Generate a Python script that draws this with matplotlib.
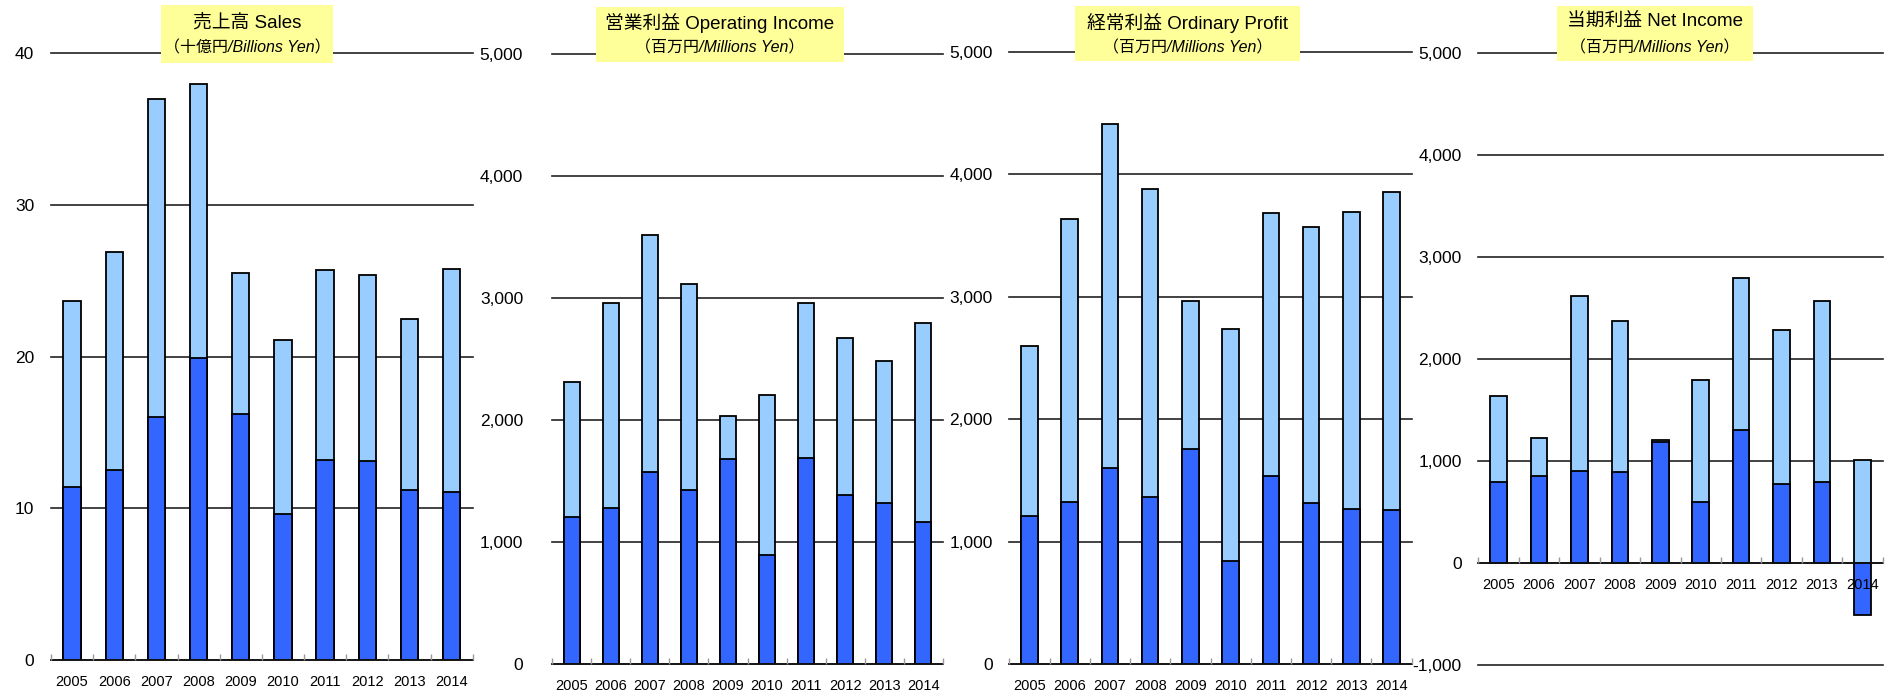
import matplotlib
matplotlib.use("Agg")
import matplotlib.pyplot as plt
from matplotlib.patches import Rectangle

plt.rcParams['font.family'] = ['Liberation Sans', 'Noto Sans CJK JP']

# ---------------------------  data

years = ['2005', '2006', '2007', '2008', '2009',
         '2010', '2011', '2012', '2013', '2014']

sales_total = [23.7, 26.9, 37.0, 38.0, 25.5, 21.1, 25.7, 25.4, 22.5, 25.8]
sales_half = [11.4, 12.5, 16.0, 19.9, 16.2, 9.6, 13.2, 13.1, 11.2, 11.1]

op_total = [2314, 2957, 3516, 3117, 2035, 2205, 2962, 2672, 2484, 2798]
op_half = [1208, 1281, 1577, 1426, 1678, 893, 1686, 1385, 1322, 1167]

ord_total = [2600, 3636, 4412, 3881, 2968, 2734, 3682, 3568, 3687, 3851]
ord_half = [1207, 1324, 1601, 1367, 1759, 841, 1536, 1318, 1266, 1255]

net_total = [1640, 1222, 2614, 2369, 1209, 1797, 2790, 2280, 2565, 1006]
net_half = [790, 849, 905, 888, 1186, 601, 1307, 777, 790, -507]

sales_ticks = [0, 10, 20, 30, 40]
yen_ticks = [0, 1000, 2000, 3000, 4000, 5000]
net_ticks = [-1000, 0, 1000, 2000, 3000, 4000, 5000]

titles = [
    ('売上高 Sales', '（十億円/Billions Yen）'),
    ('営業利益 Operating Income', '（百万円/Millions Yen）'),
    ('経常利益 Ordinary Profit', '（百万円/Millions Yen）'),
    ('当期利益 Net Income', '（百万円/Millions Yen）'),
]

# ---------------------------  layout (pixels)

W, H = 1892, 696
LIGHT = '#99CCFF'
DARK = '#3366FF'

# left, right, top, bottom of each plot area
boxes = [
    (51, 472.7, 53.3, 660),
    (552.3, 942.7, 54, 664),
    (1009.3, 1411.7, 51.7, 664),
    (1478.3, 1882.7, 53, 665),
]
# yellow title boxes: left, right, top, bottom
title_boxes = [
    (161, 333, 5, 62.7),
    (596, 844, 7, 62),
    (1075, 1300, 6, 61),
    (1557, 1753, 6, 61),
]
ypads = [12, 21, 12, 12]


def to_fig(l, r, t, b):
    return [l / W, 1 - b / H, (r - l) / W, (b - t) / H]


def draw_panel(fig, idx, total, half, ticks, fmt):
    ax = fig.add_axes(to_fig(*boxes[idx]))
    x = list(range(len(years)))

    # grid lines behind the bars
    for _tt in ticks:
        ax.axhline(_tt, color='#222222', linewidth=1.2, zorder=0.5,
                   clip_on=False)

    ax.bar(x, total, width=0.41, color=LIGHT, edgecolor='black',
           linewidth=1.3, zorder=2)
    ax.bar(x, half, width=0.41, color=DARK, edgecolor='black',
           linewidth=1.3, zorder=3)

    ax.set_xlim(-0.5, len(years) - 0.5)
    ax.set_ylim(ticks[0], ticks[-1])

    for _ss in ('top', 'right', 'left'):
        ax.spines[_ss].set_visible(False)
    ax.spines['bottom'].set_position(('data', 0))
    ax.spines['bottom'].set_color('#111111')
    ax.spines['bottom'].set_linewidth(1.2)
    ax.spines['bottom'].set_zorder(4)

    ax.set_xticks(x)
    ax.set_xticklabels(years, fontsize=10.5)
    ax.set_xticks([v - 0.5 for v in range(len(years) + 1)], minor=True)
    ax.tick_params(axis='x', which='major', length=0, pad=11)
    ax.tick_params(axis='x', which='minor', direction='in', length=4,
                   color='#999999', width=1)
    # year labels stay readable over the negative bar
    ax.xaxis.set_zorder(5)

    ax.set_yticks(ticks)
    ax.set_yticklabels([fmt(v) for v in ticks], fontsize=12.5)
    ax.tick_params(axis='y', length=0, pad=ypads[idx])

    # ---- title box
    l, r, t, b = title_boxes[idx]
    fig.add_artist(Rectangle((l / W, 1 - b / H), (r - l) / W, (b - t) / H,
                             transform=fig.transFigure, facecolor='#FFFF99',
                             edgecolor='none', zorder=5))
    cx = (l + r) / 2 / W
    fig.text(cx, 1 - 22.7 / H, titles[idx][0], fontsize=13.5,
             ha='center', va='center', zorder=6)
    fig.text(cx, 1 - 48.3 / H, titles[idx][1], fontsize=11.5,
             style='italic', ha='center', va='center', zorder=6)
    return ax


fig = plt.figure(figsize=(W / 100, H / 100), dpi=100)

draw_panel(fig, 0, sales_total, sales_half, sales_ticks, lambda v: '%d' % v)
draw_panel(fig, 1, op_total, op_half, yen_ticks, lambda v: '{:,}'.format(v))
draw_panel(fig, 2, ord_total, ord_half, yen_ticks, lambda v: '{:,}'.format(v))
draw_panel(fig, 3, net_total, net_half, net_ticks, lambda v: '{:,}'.format(v))

fig.savefig('out.png', dpi=100)
